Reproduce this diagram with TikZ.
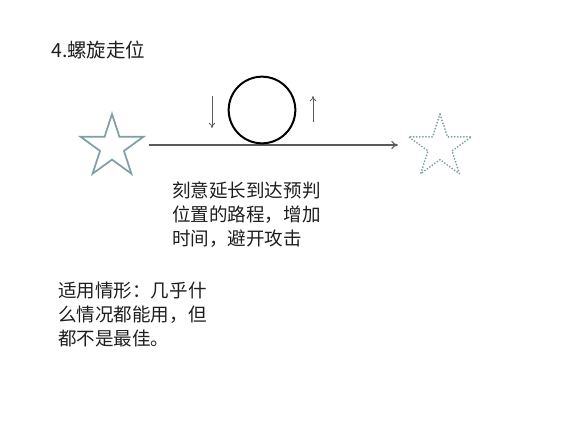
\documentclass[tikz,border=0pt]{standalone}
\usepackage{fontspec}
\setmainfont{Noto Sans CJK SC}
\usetikzlibrary{shapes.geometric,arrows.meta}

\definecolor{starcol}{RGB}{125,160,165}
\definecolor{linecol}{RGB}{90,90,90}
\definecolor{txtcol}{RGB}{30,30,30}

\tikzset{
  starnode/.style={star, star points=5, star point ratio=2.618, minimum size=49.5pt, inner sep=0pt, draw=starcol},
  label text/.style={align=left, anchor=north west, inner sep=0pt, text=txtcol, font=\fontsize{13.9}{18}\selectfont},
  move arrow/.style={draw=linecol, line width=0.6pt, -{To[length=4pt,width=5pt]}}
}

\begin{document}
\begin{tikzpicture}[x=0.75pt,y=-0.75pt]
\useasboundingbox (0,0) rectangle (580,429);

% title
\node[label text, anchor=west, font=\fontsize{14.6}{18}\selectfont] (title) at (51,50) {4.螺旋走位};

% start and target
\node[starnode, line width=1.3pt] (start) at (112,147) {};
\node[starnode, dash pattern=on 0pt off 2.3pt, line cap=round, line width=1.5pt] (goal) at (440,147) {};
\coordinate (p1) at (398,145);
\draw[draw=linecol, line width=0.8pt, -{To[length=5pt,width=6pt]}] ([xshift=2pt]start.outer point 5 |- p1) -- (p1);

% spiral
\node[circle, draw=black, line width=1.5pt, minimum size=50pt, inner sep=0pt] (loop) at (262,110) {};
\coordinate (downA) at (212,96);
\coordinate (downB) at (212,128);
\coordinate (upA) at (313,122);
\coordinate (upB) at (313,96);
\draw[move arrow] (downA) -- (downB);
\draw[move arrow] (upA) -- (upB);

% notes
\node[label text] (note) at (172,181) {刻意延长到达预判\\位置的路程，增加\\时间，避开攻击};
\node[label text] (usage) at (58,282) {适用情形：几乎什\\么情况都能用，但\\都不是最佳。};

\end{tikzpicture}
\end{document}
